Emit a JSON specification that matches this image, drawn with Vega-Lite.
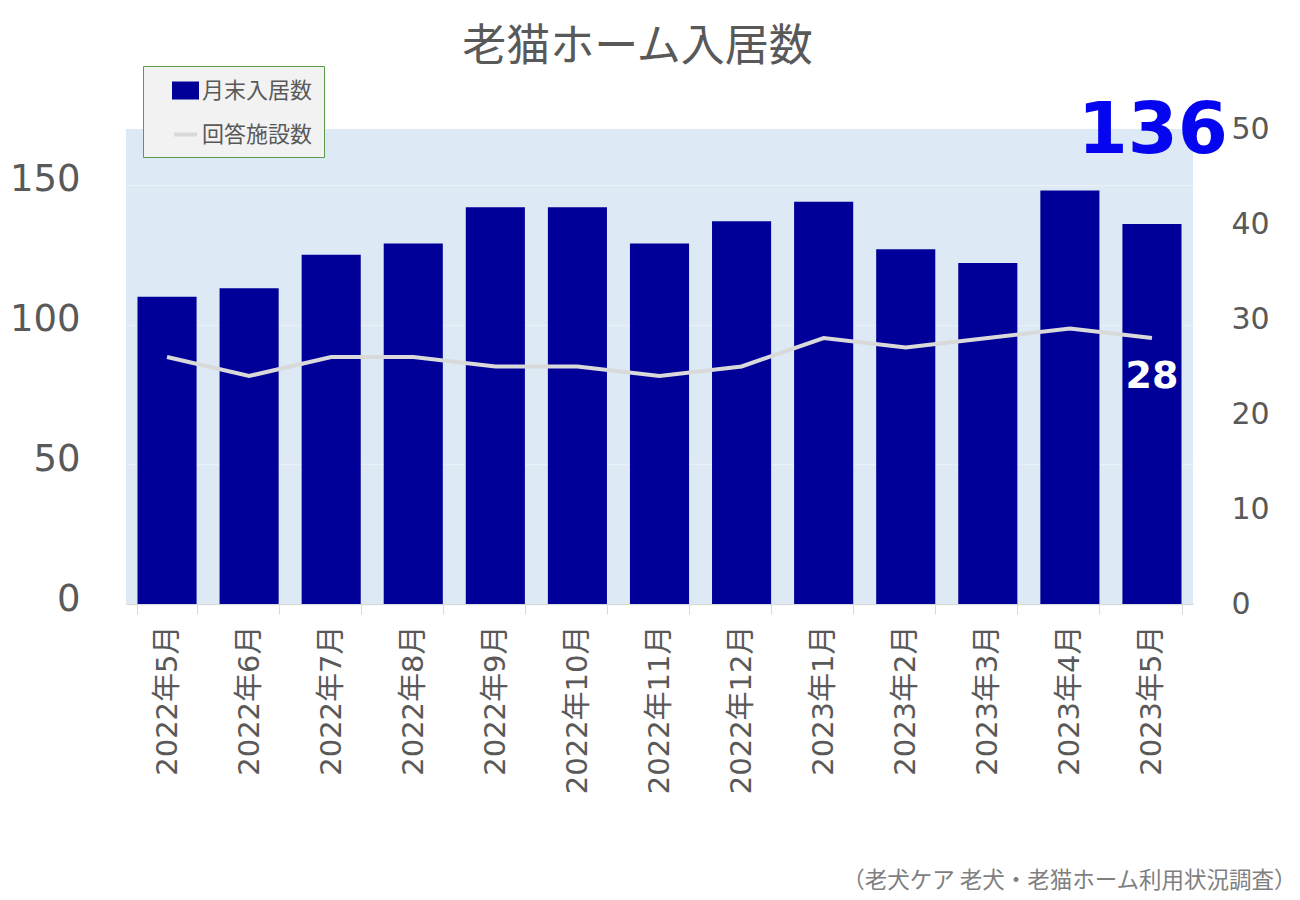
{
  "$schema": "https://vega.github.io/schema/vega-lite/v6.json",
  "width": 1067,
  "height": 475,
  "autosize": {"type": "none"},
  "padding": {"left": 126, "top": 129, "right": 107, "bottom": 296},
  "background": "white",
  "config": {
    "view": {"fill": "#dde9f5", "stroke": null},
    "font": "Noto Sans CJK JP"
  },
  "title": {
    "text": "老猫ホーム入居数",
    "fontSize": 44,
    "fontWeight": "normal",
    "color": "#595959",
    "font": "Noto Sans CJK JP",
    "anchor": "middle",
    "offset": -4,
    "dx": -22
  },
  "data": {
    "values": [
      {"month": "2022年5月", "residents": 110, "facilities": 26},
      {"month": "2022年6月", "residents": 113, "facilities": 24},
      {"month": "2022年7月", "residents": 125, "facilities": 26},
      {"month": "2022年8月", "residents": 129, "facilities": 26},
      {"month": "2022年9月", "residents": 142, "facilities": 25},
      {"month": "2022年10月", "residents": 142, "facilities": 25},
      {"month": "2022年11月", "residents": 129, "facilities": 24},
      {"month": "2022年12月", "residents": 137, "facilities": 25},
      {"month": "2023年1月", "residents": 144, "facilities": 28},
      {"month": "2023年2月", "residents": 127, "facilities": 27},
      {"month": "2023年3月", "residents": 122, "facilities": 28},
      {"month": "2023年4月", "residents": 148, "facilities": 29},
      {"month": "2023年5月", "residents": 136, "facilities": 28}
    ]
  },
  "encoding": {
    "x": {
      "field": "month",
      "type": "nominal",
      "sort": null,
      "scale": {"paddingInner": 0.28, "paddingOuter": 0.14},
      "axis": {
        "title": "（老犬ケア 老犬・老猫ホーム利用状況調査）",
        "titleFontSize": 22.5,
        "titleColor": "#7f7f7f",
        "titleFontWeight": "normal",
        "titleFont": "Noto Sans CJK JP",
        "titleAnchor": "end",
        "titleAlign": "right",
        "titleBaseline": "middle",
        "titleX": 1170,
        "titleY": 276,
        "labelAngle": 270,
        "labelAlign": "right",
        "labelBaseline": "middle",
        "labelFontSize": 29,
        "labelColor": "#595959",
        "labelFont": "DejaVu Sans, Noto Sans CJK JP",
        "labelPadding": 11,
        "tickBand": "extent",
        "tickColor": "#d9d9d9",
        "tickSize": 10,
        "domainColor": "#d9d9d9",
        "grid": false
      }
    }
  },
  "layer": [
    {
      "layer": [
        {
          "mark": {"type": "bar"},
          "encoding": {
            "y": {
              "field": "residents",
              "type": "quantitative",
              "scale": {"domain": [0, 170], "nice": false},
              "axis": {
                "title": null,
                "values": [0, 50, 100, 150],
                "labelFontSize": 37,
                "labelColor": "#595959",
                "labelFont": "DejaVu Sans",
                "domain": false,
                "ticks": false,
                "labelPadding": 46,
                "labelOffset": -5,
                "grid": true,
                "gridColor": "#e9f0f8",
                "gridWidth": 1.5
              }
            },
            "color": {
              "datum": "月末入居数",
              "scale": {
                "domain": ["月末入居数", "回答施設数"],
                "range": ["#000099", "#d9d9d9"]
              },
              "legend": {
                "title": null,
                "orient": "none",
                "legendX": 17,
                "legendY": -63,
                "fillColor": "#f2f2f2",
                "strokeColor": "#5b9b4b",
                "padding": 11,
                "rowPadding": 15,
                "symbolOffset": 18,
                "symbolSize": 529,
                "symbolStrokeWidth": 4,
                "labelOffset": 3,
                "labelFontSize": 22,
                "labelColor": "#595959",
                "labelFont": "Noto Sans CJK JP",
                "encode": {
                  "symbols": {
                    "update": {
                      "shape": {"signal": "datum.value === '月末入居数' ? 'M-1,-0.6H1V0.6H-1Z' : 'M-1,0H1'"},
                      "fill": {"signal": "datum.value === '月末入居数' ? '#000099' : 'transparent'"},
                      "stroke": {"signal": "datum.value === '月末入居数' ? 'transparent' : '#d9d9d9'"},
                      "strokeWidth": {"value": 4},
                      "opacity": {"value": 1},
                      "fillOpacity": {"value": 1},
                      "strokeOpacity": {"value": 1}
                    }
                  }
                }
              }
            }
          }
        },
        {
          "transform": [{"filter": "datum.month === '2023年5月'"}],
          "mark": {
            "type": "text",
            "font": "DejaVu Sans",
            "fontWeight": "bold",
            "fontSize": 72,
            "color": "#0505f0",
            "align": "right",
            "baseline": "alphabetic",
            "dx": 76,
            "dy": 24
          },
          "encoding": {
            "y": {"datum": 170, "type": "quantitative", "title": null},
            "text": {"field": "residents", "type": "quantitative"}
          }
        }
      ]
    },
    {
      "layer": [
        {
          "mark": {"type": "line", "strokeWidth": 4},
          "encoding": {
            "y": {
              "field": "facilities",
              "type": "quantitative",
              "scale": {"domain": [0, 50], "nice": false},
              "axis": {
                "orient": "right",
                "title": null,
                "values": [0, 10, 20, 30, 40, 50],
                "labelFontSize": 30,
                "labelColor": "#595959",
                "labelFont": "DejaVu Sans",
                "domain": false,
                "ticks": false,
                "grid": false,
                "labelPadding": 38
              }
            },
            "color": {"datum": "回答施設数"}
          }
        },
        {
          "transform": [{"filter": "datum.month === '2023年5月'"}],
          "mark": {
            "type": "text",
            "font": "DejaVu Sans",
            "fontWeight": "bold",
            "fontSize": 38,
            "color": "white",
            "align": "center",
            "baseline": "middle",
            "dy": 39
          },
          "encoding": {
            "y": {"field": "facilities", "type": "quantitative", "title": null},
            "text": {"field": "facilities", "type": "quantitative"}
          }
        }
      ]
    }
  ],
  "resolve": {"scale": {"y": "independent"}}
}
